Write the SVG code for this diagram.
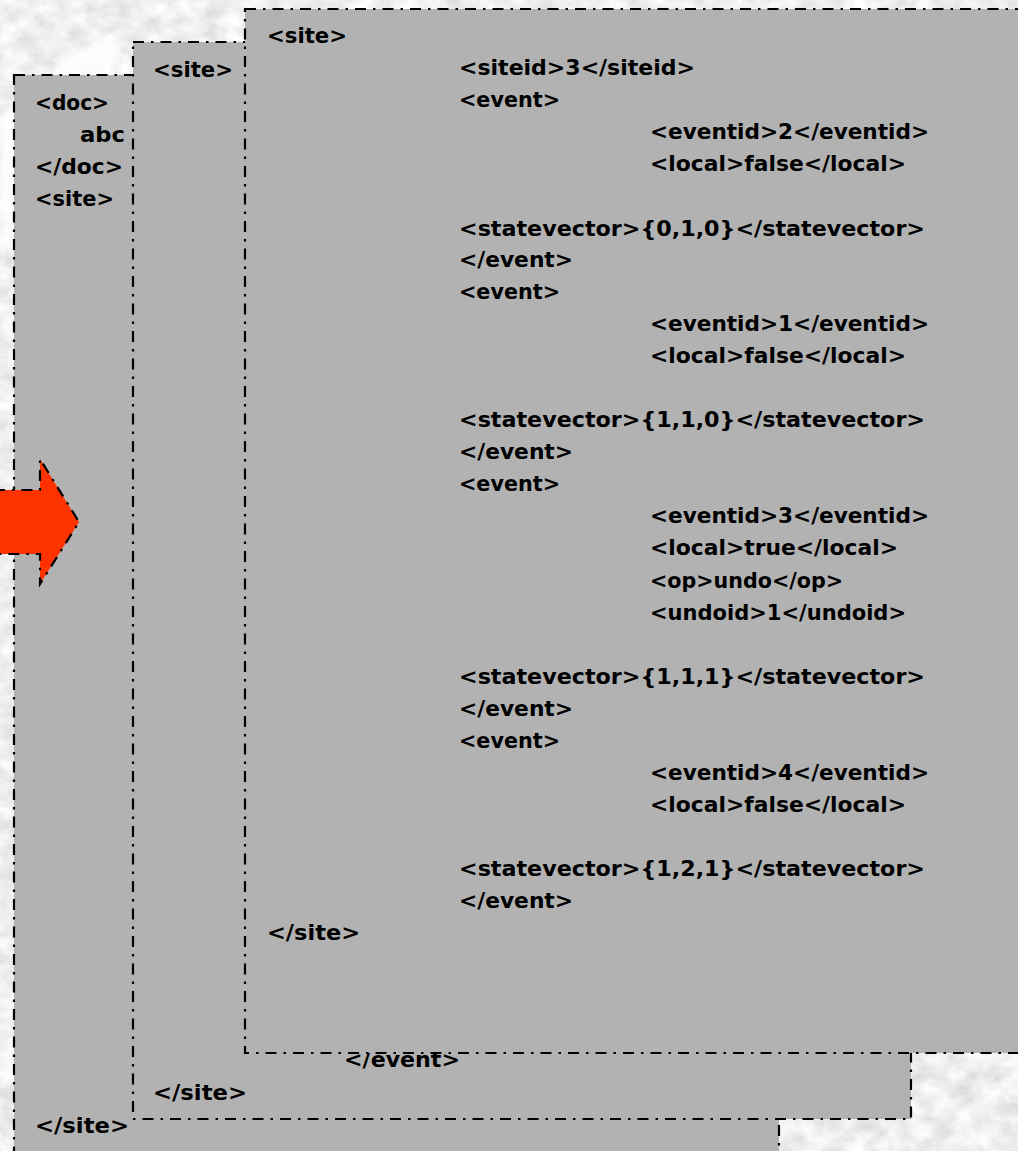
<svg xmlns="http://www.w3.org/2000/svg" width="1018" height="1151" viewBox="0 0 1018 1151">
  <defs>
    <!-- grey marble backdrop -->
    <filter id="marble" x="0" y="0" width="100%" height="100%" filterUnits="userSpaceOnUse">
      <feTurbulence type="fractalNoise" baseFrequency="0.045 0.06" numOctaves="5" seed="7" result="n"/>
      <feColorMatrix in="n" type="matrix"
        values="0.45 0 0 0 0.64
                0.45 0 0 0 0.64
                0.45 0 0 0 0.64
                0 0 0 0 1"/>
    </filter>
    <filter id="soft" x="-20%" y="-20%" width="140%" height="140%">
      <feGaussianBlur stdDeviation="3"/>
    </filter>
    <style>
      .panel { fill: #b2b2b2; stroke: #000; stroke-width: 2.2; stroke-dasharray: 11 7 2.5 7; }
      .arrow { fill: #ff3300; stroke: #000; stroke-width: 2.2; stroke-dasharray: 11 7 2.5 7; }
      text { font-family: "DejaVu Sans", "Liberation Sans", sans-serif; font-weight: bold; font-size: 22px; fill: #000; }
    </style>
  </defs>

  <!-- backdrop -->
  <rect x="0" y="0" width="1018" height="1151" fill="#e2e2e2"/>
  <rect x="0" y="0" width="1018" height="1151" filter="url(#marble)"/>
  <polygon points="118,38 72,52 0,118 0,262 36,205 112,78" fill="#ffffff" opacity="0.85" filter="url(#soft)"/>

  <!-- outer document panel -->
  <g id="panel-doc">
    <rect class="panel" x="14" y="75" width="765" height="1110"/>
    <text x="35" y="110" textLength="74" lengthAdjust="spacingAndGlyphs">&lt;doc&gt;</text>
    <text x="80" y="142" textLength="45" lengthAdjust="spacingAndGlyphs">abc</text>
    <text x="35" y="174" textLength="88" lengthAdjust="spacingAndGlyphs">&lt;/doc&gt;</text>
    <text x="35" y="206" textLength="79" lengthAdjust="spacingAndGlyphs">&lt;site&gt;</text>
    <text x="35" y="1133" textLength="94" lengthAdjust="spacingAndGlyphs">&lt;/site&gt;</text>
  </g>

  <!-- second site panel -->
  <g id="panel-site2">
    <rect class="panel" x="133" y="42" width="778" height="1077"/>
    <text x="153" y="77" textLength="80" lengthAdjust="spacingAndGlyphs">&lt;site&gt;</text>
    <text x="344" y="1067" textLength="116" lengthAdjust="spacingAndGlyphs">&lt;/event&gt;</text>
    <text x="153" y="1100" textLength="94" lengthAdjust="spacingAndGlyphs">&lt;/site&gt;</text>
  </g>

  <!-- front site panel (siteid 3) -->
  <g id="panel-site3">
    <rect class="panel" x="245" y="9" width="800" height="1044"/>
    <text x="267" y="43" textLength="80" lengthAdjust="spacingAndGlyphs">&lt;site&gt;</text>
    <text x="459" y="75" textLength="236" lengthAdjust="spacingAndGlyphs">&lt;siteid&gt;3&lt;/siteid&gt;</text>

    <text x="459" y="107" textLength="101" lengthAdjust="spacingAndGlyphs">&lt;event&gt;</text>
    <text x="650" y="139" textLength="279" lengthAdjust="spacingAndGlyphs">&lt;eventid&gt;2&lt;/eventid&gt;</text>
    <text x="650" y="171" textLength="256" lengthAdjust="spacingAndGlyphs">&lt;local&gt;false&lt;/local&gt;</text>
    <text x="459" y="236" textLength="466" lengthAdjust="spacingAndGlyphs">&lt;statevector&gt;{0,1,0}&lt;/statevector&gt;</text>
    <text x="459" y="267" textLength="114" lengthAdjust="spacingAndGlyphs">&lt;/event&gt;</text>

    <text x="459" y="299" textLength="101" lengthAdjust="spacingAndGlyphs">&lt;event&gt;</text>
    <text x="650" y="331" textLength="279" lengthAdjust="spacingAndGlyphs">&lt;eventid&gt;1&lt;/eventid&gt;</text>
    <text x="650" y="363" textLength="256" lengthAdjust="spacingAndGlyphs">&lt;local&gt;false&lt;/local&gt;</text>
    <text x="459" y="427" textLength="466" lengthAdjust="spacingAndGlyphs">&lt;statevector&gt;{1,1,0}&lt;/statevector&gt;</text>
    <text x="459" y="459" textLength="114" lengthAdjust="spacingAndGlyphs">&lt;/event&gt;</text>

    <text x="459" y="491" textLength="101" lengthAdjust="spacingAndGlyphs">&lt;event&gt;</text>
    <text x="650" y="523" textLength="279" lengthAdjust="spacingAndGlyphs">&lt;eventid&gt;3&lt;/eventid&gt;</text>
    <text x="650" y="555" textLength="248" lengthAdjust="spacingAndGlyphs">&lt;local&gt;true&lt;/local&gt;</text>
    <text x="650" y="588" textLength="193" lengthAdjust="spacingAndGlyphs">&lt;op&gt;undo&lt;/op&gt;</text>
    <text x="650" y="620" textLength="256" lengthAdjust="spacingAndGlyphs">&lt;undoid&gt;1&lt;/undoid&gt;</text>
    <text x="459" y="684" textLength="466" lengthAdjust="spacingAndGlyphs">&lt;statevector&gt;{1,1,1}&lt;/statevector&gt;</text>
    <text x="459" y="716" textLength="114" lengthAdjust="spacingAndGlyphs">&lt;/event&gt;</text>

    <text x="459" y="748" textLength="101" lengthAdjust="spacingAndGlyphs">&lt;event&gt;</text>
    <text x="650" y="780" textLength="279" lengthAdjust="spacingAndGlyphs">&lt;eventid&gt;4&lt;/eventid&gt;</text>
    <text x="650" y="812" textLength="256" lengthAdjust="spacingAndGlyphs">&lt;local&gt;false&lt;/local&gt;</text>
    <text x="459" y="876" textLength="466" lengthAdjust="spacingAndGlyphs">&lt;statevector&gt;{1,2,1}&lt;/statevector&gt;</text>
    <text x="459" y="908" textLength="114" lengthAdjust="spacingAndGlyphs">&lt;/event&gt;</text>
    <text x="267" y="940" textLength="93" lengthAdjust="spacingAndGlyphs">&lt;/site&gt;</text>
  </g>

  <!-- transformation arrow -->
  <g id="arrow">
    <polygon class="arrow" points="-6,490 40,490 40,459 79,522 40,584 40,554 -6,554"/>
  </g>
</svg>
